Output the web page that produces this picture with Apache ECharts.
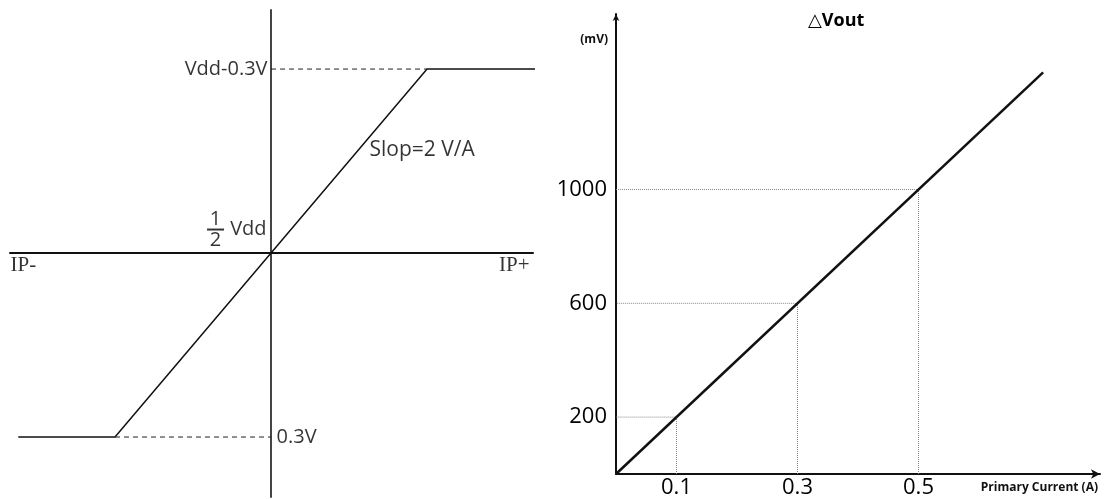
<!DOCTYPE html>
<html><head><meta charset="utf-8">
<script src="https://cdn.jsdelivr.net/npm/echarts@6/dist/echarts.min.js"></script>
<style>html,body{margin:0;padding:0;background:#fff}#c{width:1105px;height:499px}</style>
</head><body><div id="c"></div>
<script>
// ---- Left panel: transfer characteristic (x: IP in units of the saturation current, y: output in units of half swing)
const leftCurveX = [-1.62, -1, 0, 1, 1.83];
const leftCurveY = [-1, -1, 0, 1, 1];
const leftDashHighX = [0, 1];
const leftDashHighY = [1, 1];
const leftDashLowX = [-1, 0];
const leftDashLowY = [-1, -1];
const leftLabelTexts = ['Vdd-0.3V', '0.3V', 'Vdd', 'Slop=2 V/A', 'IP-', 'IP+'];
const leftLabelX = [0, 0, 0, 0.5, -1.673, 1.679];
const leftLabelY = [1, -1, 0, 0.5, 0, 0];
const fracNum = '1', fracDen = '2';

// ---- Right panel: ΔVout (mV) vs primary current (A)
const currentA = [0, 0.706];
const voutMv = [0, 1412];
const guideCurrents = [0.1, 0.3, 0.5];
const guideVout = [200, 600, 1000];
const xTickValues = [0.1, 0.3, 0.5];
const yTickValues = [200, 600, 1000];

const FONT = '"Open Sans", "DejaVu Sans", sans-serif';
const SERIF = '"Liberation Serif", "DejaVu Serif", serif';
const zip = (a, b) => a.map((v, i) => [v, b[i]]);

const leftLabelStyles = [
  {position: 'left', distance: 3, fontSize: 20},
  {position: 'right', distance: 5, fontSize: 20},
  {position: [-4, -23], align: 'right', verticalAlign: 'middle', fontSize: 20},
  {position: [21, -11], align: 'left', verticalAlign: 'middle', fontSize: 21},
  {position: [1, 2], align: 'left', verticalAlign: 'top', fontSize: 21, fontFamily: SERIF},
  {position: [-3, 2], align: 'right', verticalAlign: 'top', fontSize: 21, fontFamily: SERIF}
];
const labelData = leftLabelTexts.map((t, i) => ({
  value: [leftLabelX[i], leftLabelY[i]],
  label: Object.assign({show: true, formatter: t, color: '#000', fontFamily: FONT}, leftLabelStyles[i])
}));
labelData.push({
  value: [0, 0],
  label: {
    show: true, position: [-55, -22], align: 'center', verticalAlign: 'middle',
    formatter: '{n|' + fracNum + '}\n{b|\u2002}\n{d|' + fracDen + '}',
    rich: {
      n: {fontSize: 20, lineHeight: 17, color: '#000', fontFamily: FONT, align: 'center'},
      b: {fontSize: 2, width: 17, height: 2, lineHeight: 3, backgroundColor: '#000', align: 'center'},
      d: {fontSize: 20, lineHeight: 19, color: '#000', fontFamily: FONT, align: 'center'}
    }
  }
});

const guideSeries = guideCurrents.map((g, i) => ({
  type: 'line', xAxisIndex: 1, yAxisIndex: 1, symbol: 'none', silent: true,
  data: [[g, 0], [g, guideVout[i]], [0, guideVout[i]]],
  lineStyle: {color: '#888', width: 1, type: [1, 1]}
}));

const chart = echarts.init(document.getElementById('c'), null, {renderer: 'canvas'});
chart.setOption({
  animation: false,
  backgroundColor: '#fff',
  title: {
    text: '△Vout', left: 803, top: 7,
    textStyle: {fontSize: 18, fontWeight: 'bold', color: '#000', fontFamily: FONT}
  },
  grid: [
    {left: 10, top: 10, width: 523, height: 487},
    {left: 616, top: 14, width: 484, height: 461}
  ],
  xAxis: [
    {type: 'value', gridIndex: 0, min: -1.673, max: 1.679,
      axisLine: {onZero: true, lineStyle: {color: '#111', width: 2}},
      axisTick: {show: false}, axisLabel: {show: false}, splitLine: {show: false}},
    {type: 'value', gridIndex: 1, min: 0, max: 0.8,
      name: 'Primary Current (A)', nameLocation: 'end', nameGap: -2,
      nameTextStyle: {align: 'right', verticalAlign: 'top', padding: [8, 0, 0, 0], fontSize: 12, fontWeight: 'bold', color: '#111', fontFamily: FONT},
      axisLine: {lineStyle: {color: '#111', width: 2}, symbol: ['none', 'arrow'], symbolSize: [7, 9]},
      axisTick: {show: false}, splitLine: {show: false},
      axisLabel: {customValues: xTickValues, fontSize: 22, color: '#000', margin: 3, fontFamily: FONT,
        formatter: v => String(v)}}
  ],
  yAxis: [
    {type: 'value', gridIndex: 0, min: -1.326, max: 1.321,
      axisLine: {onZero: true, lineStyle: {color: '#444', width: 2}},
      axisTick: {show: false}, axisLabel: {show: false}, splitLine: {show: false}},
    {type: 'value', gridIndex: 1, min: 0, max: 1617,
      name: '(mV)', nameLocation: 'end', nameGap: -26,
      nameTextStyle: {align: 'right', verticalAlign: 'middle', padding: [0, 8, 0, 0], fontSize: 12, fontWeight: 'bold', color: '#111', fontFamily: FONT},
      axisLine: {lineStyle: {color: '#111', width: 2}, symbol: ['none', 'arrow'], symbolSize: [5, 7]},
      axisTick: {show: false}, splitLine: {show: false},
      axisLabel: {customValues: yTickValues, fontSize: 22, color: '#000', margin: 9, fontFamily: FONT,
        formatter: v => String(v)}}
  ],
  series: [
    {type: 'line', xAxisIndex: 0, yAxisIndex: 0, symbol: 'none', clip: false, silent: true,
      data: zip(leftCurveX, leftCurveY), lineStyle: {color: '#111', width: 1.5}},
    {type: 'line', xAxisIndex: 0, yAxisIndex: 0, symbol: 'none', silent: true,
      data: zip(leftDashHighX, leftDashHighY), lineStyle: {color: '#222', width: 1, type: [5, 4]}},
    {type: 'line', xAxisIndex: 0, yAxisIndex: 0, symbol: 'none', silent: true,
      data: zip(leftDashLowX, leftDashLowY), lineStyle: {color: '#222', width: 1, type: [5, 4]}},
    {type: 'scatter', xAxisIndex: 0, yAxisIndex: 0, symbolSize: 1, silent: true, clip: false,
      itemStyle: {color: 'rgba(0,0,0,0)'}, data: labelData},
    ...guideSeries,
    {type: 'line', xAxisIndex: 1, yAxisIndex: 1, symbol: 'none', silent: true,
      data: zip(currentA, voutMv), lineStyle: {color: '#111', width: 2.5}}
  ]
});
</script></body></html>
